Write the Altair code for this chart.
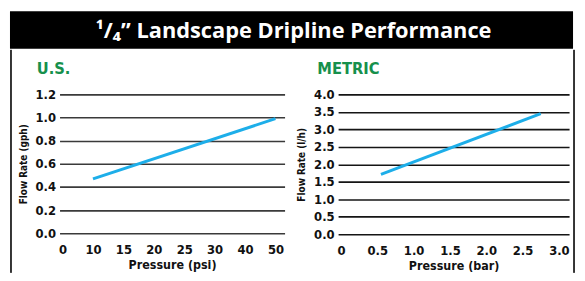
import altair as alt
import pandas as pd

# ---- data ----
title_text = ["\u00b9/\u2084\u201d Landscape Dripline Performance"]
us_label = ["U.S."]
metric_label = ["METRIC"]

us_x_ticks = ["0", "10", "15", "20", "25", "30", "40", "50"]
us_pressure = ["10", "50"]
us_flow = [0.47, 0.99]
us_y_ticks = [0.0, 0.2, 0.4, 0.6, 0.8, 1.0, 1.2]

metric_x_ticks = [0.0, 0.5, 1.0, 1.5, 2.0, 2.5, 3.0]
metric_pressure = [0.55, 2.75]
metric_flow = [1.71, 3.45]
metric_y_ticks = [0.0, 0.5, 1.0, 1.5, 2.0, 2.5, 3.0, 3.5, 4.0]

FONT = "Noto Sans Condensed, DejaVu Sans Condensed, sans-serif"
TITLE_FONT = "Open Sans"
GREEN = "#16904c"
BLUE = "#1daee9"
BORDER = "#333333"

# ---- title bar ----
tdf = pd.DataFrame({"t": title_text})
bar_rect = alt.Chart(tdf).mark_rect(color="black").encode(
    x=alt.value(-50), x2=alt.value(518), y=alt.value(0), y2=alt.value(38))
bar_text = alt.Chart(tdf).mark_text(
    color="white", font=TITLE_FONT, fontSize=22, fontWeight="bold",
    align="center", baseline="alphabetic"
).encode(text="t:N", x=alt.value(236), y=alt.value(27))
title_bar = alt.layer(bar_rect, bar_text).properties(width=400, height=38)

# ---- U.S. chart ----
us_df = pd.DataFrame({"Pressure": us_pressure, "Flow": us_flow})
us_lab_df = pd.DataFrame({"t": us_label})

us_line = alt.Chart(us_df).mark_line(color=BLUE, strokeWidth=3).encode(
    x=alt.X("Pressure:O",
            scale=alt.Scale(type="point", domain=us_x_ticks, padding=0.2, align=0.25),
            axis=alt.Axis(title="Pressure (psi)", labelAngle=0)),
    y=alt.Y("Flow:Q", scale=alt.Scale(domain=[0, 1.2], nice=False),
            axis=alt.Axis(values=us_y_ticks, format=".1f", title="Flow Rate (gph)",
                          gridColor="#3a3a3a")),
)
us_text = alt.Chart(us_lab_df).mark_text(
    color=GREEN, font=FONT, fontSize=16.5, fontWeight="bold", align="left", baseline="alphabetic"
).encode(text="t:N", x=alt.value(-23), y=alt.value(-21))
us_rule = alt.Chart(us_lab_df).mark_rule(color=BORDER, strokeWidth=2).encode(
    x=alt.value(-49), y=alt.value(-45), y2=alt.value(180))
us = alt.layer(us_rule, us_text, us_line).properties(width=227, height=140)

# ---- METRIC chart ----
m_df = pd.DataFrame({"Pressure": metric_pressure, "Flow": metric_flow})
m_lab_df = pd.DataFrame({"t": metric_label})

m_line = alt.Chart(m_df).mark_line(color=BLUE, strokeWidth=3).encode(
    x=alt.X("Pressure:Q",
            scale=alt.Scale(domain=[-0.04, 3.14], nice=False, zero=False),
            axis=alt.Axis(values=metric_x_ticks, title="Pressure (bar)",
                          labelExpr="datum.value == 0 ? '0' : format(datum.value, '.1f')")),
    y=alt.Y("Flow:Q", scale=alt.Scale(domain=[0, 4], nice=False),
            axis=alt.Axis(values=metric_y_ticks, format=".1f", title="Flow Rate (l/h)",
                          gridColor="#151515")),
)
m_text = alt.Chart(m_lab_df).mark_text(
    color=GREEN, font=FONT, fontSize=16.5, fontWeight="bold", align="left", baseline="alphabetic"
).encode(text="t:N", x=alt.value(-21), y=alt.value(-21))
m_rule = alt.Chart(m_lab_df).mark_rule(color=BORDER, strokeWidth=2).encode(
    x=alt.value(238), y=alt.value(-45), y2=alt.value(180))
metric = alt.layer(m_rule, m_text, m_line).properties(width=233, height=141)

chart = alt.vconcat(
    title_bar,
    alt.hconcat(us, metric, spacing=12),
    spacing=0,
).properties(
    padding={"left": 2, "top": 2, "right": 2, "bottom": 0}
).configure_view(
    strokeWidth=0
).configure_axis(
    labelFont=FONT, labelFontSize=13, labelFontWeight="bold", labelColor="#111111",
    titleFont=FONT, titleFontWeight="bold", titleColor="#111111",
    domain=False, ticks=False, gridWidth=1.6,
).configure_axisX(
    grid=False, labelPadding=10, titleFontSize=12.5, titlePadding=3,
).configure_axisY(
    grid=True, labelPadding=4, titleFontSize=10, titlePadding=7,
)

chart.save("out.html", embed_options={"renderer": "svg", "actions": False})
